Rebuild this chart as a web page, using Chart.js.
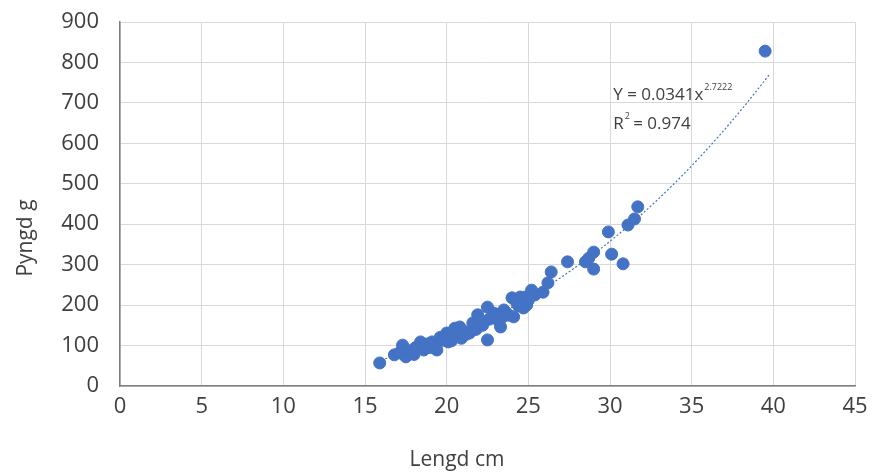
<!DOCTYPE html>
<html>
<head>
<meta charset="utf-8">
<script src="https://cdn.jsdelivr.net/npm/chart.js@4/dist/chart.umd.min.js"></script>
<style>
  html, body { margin: 0; padding: 0; background: #fff; }
</style>
</head>
<body>
<canvas id="myChart" width="874" height="473"></canvas>
<script>
// length (cm) and weight (g) of each fish
const lengd = [15.9, 16.8, 17.1, 17.3, 17.5, 17.6, 17.9, 18.1, 18.4, 18.6, 18.8, 19.1, 19.3, 19.4, 19.6, 19.8,
  20.0, 20.1, 20.2, 20.4, 20.5, 20.8, 20.9, 21.1, 21.4, 21.6, 21.8, 21.9, 22.2, 22.5, 22.5, 22.6, 22.9, 23.0,
  23.2, 23.3, 23.5, 23.6, 23.8, 24.0, 24.1, 24.2, 24.4, 24.5, 24.7, 24.8, 24.9, 25.2, 25.4, 25.9, 26.2, 26.4,
  27.4, 28.5, 28.7, 29.0, 29.0, 29.9, 30.1, 30.8, 31.1, 31.5, 31.7, 39.5,
  18.0, 19.0, 20.3, 21.2, 22.0, 23.4, 24.3, 25.0];
const pyngd = [57, 77, 82, 101, 72, 88, 84, 95, 109, 89, 104, 109, 98, 89, 120, 113,
  131, 109, 124, 121, 143, 146, 118, 135, 131, 156, 140, 176, 150, 114, 195, 165, 180, 171,
  160, 146, 188, 183, 175, 218, 171, 213, 198, 220, 193, 220, 200, 237, 225, 232, 255, 282,
  307, 307, 316, 331, 289, 381, 326, 302, 398, 413, 443, 828,
  78, 95, 112, 128, 162, 170, 205, 212];

// trend line shown in the chart: Y = a * x^b
const trendA = 0.0341;
const trendB = 2.7222;
const trendFrom = 16;
const trendTo = 39.8;
const trendLabel = ['Y = 0.0341x', '2.7222', 'R', '2', ' = 0.974'];

const xTicks = [0, 5, 10, 15, 20, 25, 30, 35, 40, 45];
const yTicks = [0, 100, 200, 300, 400, 500, 600, 700, 800, 900];

const points = lengd.map((x, i) => ({ x: x, y: pyngd[i] }));
const trend = [];
for (let x = trendFrom; x <= trendTo + 0.001; x += 0.2) {
  trend.push({ x: x, y: trendA * Math.pow(x, trendB) });
}

const blue = '#4472C4';
const textCol = '#404040';
const font = "'Open Sans', 'Noto Sans', sans-serif";

const textPlugin = {
  id: 'textPlugin',
  afterDraw(chart) {
    const c = chart.ctx;
    const xs = chart.scales.x, ys = chart.scales.y;
    c.save();
    c.fillStyle = textCol;
    c.textBaseline = 'alphabetic';
    // axis titles
    c.font = '21px ' + font;
    c.textAlign = 'center';
    c.fillText('Lengd cm', 457, 466);
    c.save();
    c.translate(32, 238);
    c.rotate(-Math.PI / 2);
    c.fillText('Pyngd g', 0, 0);
    c.restore();
    // equation
    c.textAlign = 'left';
    const ex = xs.getPixelForValue(30.2);
    const ey = ys.getPixelForValue(708);
    c.font = '17px ' + font;
    c.fillText(trendLabel[0], ex, ey);
    let w = c.measureText(trendLabel[0]).width;
    c.font = '9px ' + font;
    c.fillText(trendLabel[1], ex + w + 1, ey - 10);
    const ry = ey + 29;
    c.font = '17px ' + font;
    c.fillText(trendLabel[2], ex, ry);
    w = c.measureText(trendLabel[2]).width;
    c.font = '9px ' + font;
    c.fillText(trendLabel[3], ex + w + 1, ry - 10);
    c.font = '17px ' + font;
    c.fillText(trendLabel[4], ex + w + 5, ry);
    c.restore();
  }
};

const ctx = document.getElementById('myChart');

new Chart(ctx, {
  type: 'scatter',
  data: {
    datasets: [{
      label: 'Pyngd',
      data: points,
      backgroundColor: blue,
      borderColor: blue,
      pointRadius: 6,
      pointHoverRadius: 6,
      order: 1
    }, {
      type: 'line',
      label: 'Trend',
      data: trend,
      borderColor: blue,
      borderWidth: 1.2,
      borderDash: [2, 2],
      pointRadius: 0,
      fill: false,
      tension: 0,
      order: 2
    }]
  },
  options: {
    responsive: false,
    animation: false,
    devicePixelRatio: 1,
    layout: { padding: { top: 22, right: 19, left: 0, bottom: 0 } },
    plugins: {
      legend: { display: false },
      tooltip: { enabled: false }
    },
    scales: {
      x: {
        type: 'linear',
        min: 0,
        max: 45,
        afterBuildTicks: (s) => { s.ticks = xTicks.map(v => ({ value: v })); },
        afterFit: (s) => { s.height = 87; s.paddingLeft = 0; s.paddingRight = 0; },
        grid: { color: '#d9d9d9', lineWidth: 1, drawTicks: false },
        border: { color: '#7f7f7f', width: 1.5 },
        ticks: { color: textCol, font: { family: font, size: 22 }, padding: 8, maxRotation: 0, autoSkip: false }
      },
      y: {
        type: 'linear',
        min: 0,
        max: 900,
        afterBuildTicks: (s) => { s.ticks = yTicks.map(v => ({ value: v })); },
        afterFit: (s) => { s.width = 120; s.paddingTop = 0; s.paddingBottom = 0; },
        grid: { color: '#d9d9d9', lineWidth: 1, drawTicks: false },
        border: { color: '#7f7f7f', width: 1.5 },
        ticks: { color: textCol, font: { family: font, size: 22 }, padding: 21, autoSkip: false }
      }
    }
  },
  plugins: [textPlugin]
});
</script>
</body>
</html>
